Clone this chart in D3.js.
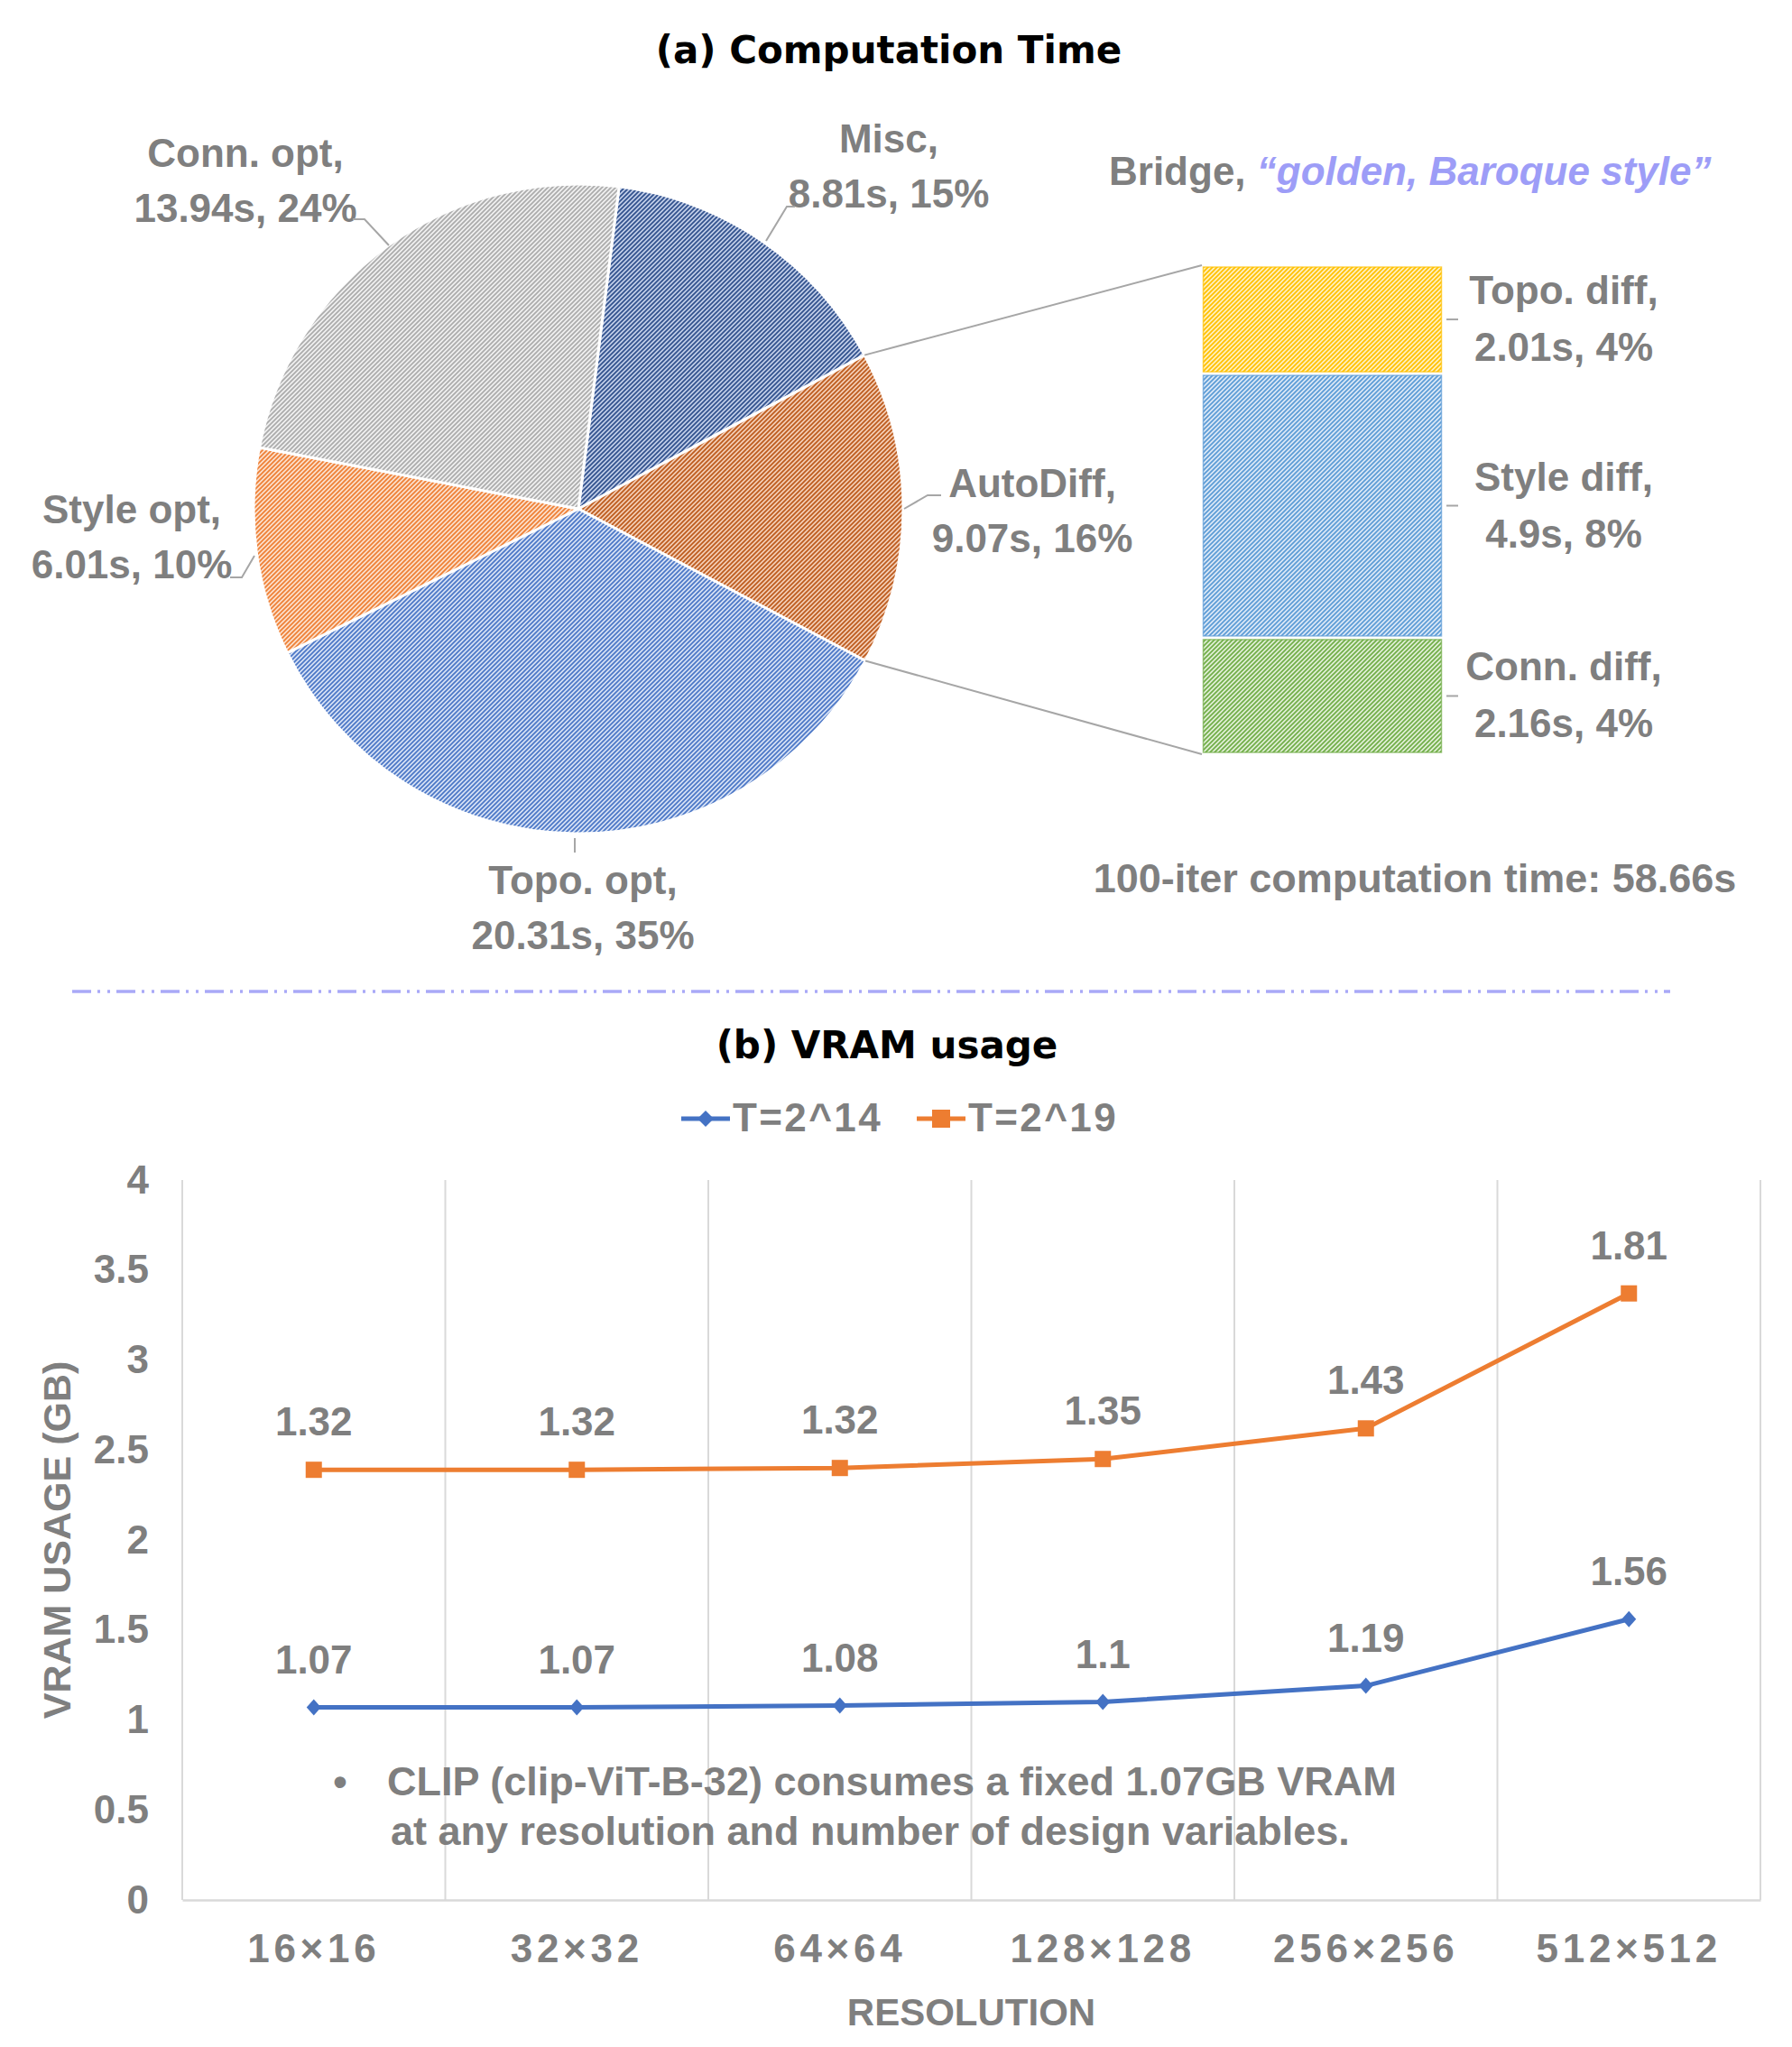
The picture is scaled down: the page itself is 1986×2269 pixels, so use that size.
<!DOCTYPE html>
<html>
<head>
<meta charset="utf-8">
<script src="https://cdnjs.cloudflare.com/ajax/libs/d3/7.8.5/d3.min.js"></script>
<style>
  body { margin: 0; background: #fff; }
  svg { display: block; }
</style>
</head>
<body>
<div id="chart"></div>
<script>
const W = 1986;
const H = 2269;

// ---- (a) computation time (bar of pie) ----
const pieNames = ["Misc", "AutoDiff", "Topo. opt", "Style opt", "Conn. opt"];
const pieSeconds = [8.81, 9.07, 20.31, 6.01, 13.94];
const piePercents = ["15%", "16%", "35%", "10%", "24%"];

const barNames = ["Topo. diff", "Style diff", "Conn. diff"];
const barSeconds = [2.01, 4.9, 2.16];
const barPercents = ["4%", "8%", "4%"];

// ---- (b) VRAM usage ----
const resolutions = ["16×16", "32×32", "64×64", "128×128", "256×256", "512×512"];
const vram14 = [1.07, 1.07, 1.08, 1.1, 1.19, 1.56];
const vram19 = [1.32, 1.32, 1.32, 1.35, 1.43, 1.81];
const seriesNames = ["T=2^14", "T=2^19"];
const yTicks = [0, 0.5, 1, 1.5, 2, 2.5, 3, 3.5, 4];

const grey = "#7F7F7F";
const labelFont = "'Liberation Sans', Arial, sans-serif";
const titleFont = "'DejaVu Sans', sans-serif";

// pattern colours: [light background, hatch line]
const pieColors = [
    ["#C0CDE8", "#30508C"],
    ["#F4CDB4", "#BC5A1C"],
    ["#D5E0F5", "#4A76C6"],
    ["#FCDFCB", "#EE7F34"],
    ["#F0F0F0", "#ABABAB"]
];
const barColors = [
    ["#FFF0BF", "#FFC000"],
    ["#DAE8F7", "#5B9BD5"],
    ["#E0EFD5", "#70AD47"]
];
const lineColors = ["#4472C4", "#ED7D31"];

let svg = d3.select("#chart")
            .append("svg")
            .attr("width", W)
            .attr("height", H);

let defs = svg.append("defs");

function addPattern(id, bg, fg) {
    let p = defs.append("pattern")
        .attr("id", id)
        .attr("patternUnits", "userSpaceOnUse")
        .attr("width", 5)
        .attr("height", 5);
    p.append("rect").attr("width", 5).attr("height", 5).attr("fill", bg);
    p.append("path")
        .attr("d", "M0,5L5,0M-1,1L1,-1M4,6L6,4")
        .attr("stroke", fg)
        .attr("stroke-width", 1.7);
}
pieColors.forEach((c, i) => addPattern("pie" + i, c[0], c[1]));
barColors.forEach((c, i) => addPattern("bar" + i, c[0], c[1]));

function greyText(g, x, y, str, size, anchor) {
    return g.append("text")
        .attr("x", x)
        .attr("y", y)
        .attr("text-anchor", anchor || "middle")
        .attr("font-family", labelFont)
        .attr("font-weight", "bold")
        .attr("font-size", size || 44)
        .attr("fill", grey)
        .text(str);
}

// ================= (a) =================
svg.append("text")
    .attr("x", 985)
    .attr("y", 70)
    .attr("text-anchor", "middle")
    .attr("font-family", titleFont)
    .attr("font-weight", "bold")
    .attr("font-size", 42)
    .attr("fill", "#000")
    .text("(a) Computation Time");

const pieCx = 641, pieCy = 564, pieR = 360;
const pieStart = 7.2 * Math.PI / 180;

let pie = d3.pie()
    .sort(null)
    .value(d => d)
    .startAngle(pieStart)
    .endAngle(pieStart + 2 * Math.PI);
let arcs = pie(pieSeconds);
let arc = d3.arc().innerRadius(0).outerRadius(pieR);

let gPie = svg.append("g").attr("transform", "translate(" + pieCx + "," + pieCy + ")");
gPie.selectAll("path")
    .data(arcs)
    .enter()
    .append("path")
    .attr("d", arc)
    .attr("fill", (d, i) => "url(#pie" + i + ")")
    .attr("stroke", "#fff")
    .attr("stroke-width", 3)
    .attr("stroke-linejoin", "round");

function onCircle(angle) {
    return [pieCx + pieR * Math.sin(angle), pieCy - pieR * Math.cos(angle)];
}

// bar of the split slice (AutoDiff)
const barX0 = 1332, barX1 = 1599;
let barY = d3.scaleLinear()
    .domain([0, d3.sum(barSeconds)])
    .range([294, 836]);
let barStarts = [0].concat(Array.from(d3.cumsum(barSeconds)));

let gBar = svg.append("g");
gBar.selectAll("rect")
    .data(barSeconds)
    .enter()
    .append("rect")
    .attr("x", barX0 + 1.5)
    .attr("width", barX1 - barX0 - 3)
    .attr("y", (d, i) => barY(barStarts[i]) + 2)
    .attr("height", (d, i) => barY(barStarts[i + 1]) - barY(barStarts[i]) - 4)
    .attr("fill", (d, i) => "url(#bar" + i + ")")
    .attr("stroke", (d, i) => barColors[i][1])
    .attr("stroke-opacity", 0.7)
    .attr("stroke-width", 1.5);

// connector lines pie -> bar
let split = arcs[1];
let connectors = [
    [onCircle(split.startAngle), [barX0, barY(0)]],
    [onCircle(split.endAngle), [barX0, barY(d3.sum(barSeconds))]]
];
svg.selectAll(".conn")
    .data(connectors)
    .enter()
    .append("path")
    .attr("class", "conn")
    .attr("d", d => d3.line()(d))
    .attr("fill", "none")
    .attr("stroke", "#A6A6A6")
    .attr("stroke-width", 2);

// pie data labels
const pieLabelPos = [[985, 169], [1144, 551], [646, 991], [146, 580], [272, 185]];
const pieLeaders = [
    [[881, 229], [872, 229], [849, 267]],
    [[1043, 549], [1028, 549], [1002, 564]],
    [[637, 929], [637, 945]],
    [[255, 640], [268, 640], [282, 616]],
    [[391, 243], [404, 243], [431, 272]]
];
let gLab = svg.append("g");
pieNames.forEach((name, i) => {
    let p = pieLabelPos[i];
    greyText(gLab, p[0], p[1], name + ",");
    greyText(gLab, p[0], p[1] + 61, pieSeconds[i] + "s, " + piePercents[i]);
    gLab.append("path")
        .attr("d", d3.line()(pieLeaders[i]))
        .attr("fill", "none")
        .attr("stroke", "#A6A6A6")
        .attr("stroke-width", 2);
});

// bar data labels
barNames.forEach((name, i) => {
    let mid = (barY(barStarts[i]) + barY(barStarts[i + 1])) / 2;
    greyText(gLab, 1733, mid - 17, name + ",");
    greyText(gLab, 1733, mid + 46, barSeconds[i] + "s, " + barPercents[i]);
    gLab.append("line")
        .attr("x1", barX1 + 4).attr("x2", barX1 + 17)
        .attr("y1", mid).attr("y2", mid)
        .attr("stroke", "#A6A6A6")
        .attr("stroke-width", 2);
});

let bridge = greyText(svg, 1229, 205, "Bridge, ", 44, "start");
bridge.append("tspan")
    .attr("font-style", "italic")
    .attr("fill", "#9D9DF7")
    .text("\u201Cgolden, Baroque style\u201D");

greyText(svg, 1568, 989, "100-iter computation time: 58.66s", 45);

// separator
svg.append("line")
    .attr("x1", 80).attr("x2", 1851)
    .attr("y1", 1099).attr("y2", 1099)
    .attr("stroke", "#A9A9F7")
    .attr("stroke-width", 3.5)
    .attr("stroke-dasharray", "21 7 3 8 3 7");

// ================= (b) =================
svg.append("text")
    .attr("x", 983)
    .attr("y", 1173)
    .attr("text-anchor", "middle")
    .attr("font-family", titleFont)
    .attr("font-weight", "bold")
    .attr("font-size", 42)
    .attr("fill", "#000")
    .text("(b) VRAM usage");

let x = d3.scaleBand().domain(resolutions).range([202, 1951]);
let y = d3.scaleLinear().domain([0, 4]).range([2106, 1308]);
const cx = d => x(d) + x.bandwidth() / 2;

// vertical gridlines
let gridX = resolutions.map(r => x(r)).concat([x.range()[1]]);
svg.selectAll(".vgrid")
    .data(gridX)
    .enter()
    .append("line")
    .attr("class", "vgrid")
    .attr("x1", d => d).attr("x2", d => d)
    .attr("y1", y(4)).attr("y2", y(0))
    .attr("stroke", "#D9D9D9")
    .attr("stroke-width", 2);

// x axis
let xAxis = svg.append("g")
    .attr("transform", "translate(0," + y(0) + ")")
    .call(d3.axisBottom(x).tickSize(0));
xAxis.select(".domain").attr("stroke", "#D9D9D9").attr("stroke-width", 2.5);
xAxis.selectAll("text")
    .attr("y", 69)
    .attr("dy", null)
    .attr("font-family", labelFont)
    .attr("font-weight", "bold")
    .attr("font-size", 44)
    .attr("letter-spacing", 4.7)
    .attr("fill", grey);

// y axis
let yAxis = svg.append("g")
    .attr("transform", "translate(" + x.range()[0] + ",0)")
    .call(d3.axisLeft(y).tickValues(yTicks).tickSize(0).tickPadding(37).tickFormat(d3.format("")));
yAxis.select(".domain").remove();
yAxis.selectAll("text")
    .attr("font-family", labelFont)
    .attr("font-weight", "bold")
    .attr("font-size", 44)
    .attr("fill", grey);

// axis titles
svg.append("text")
    .attr("transform", "translate(78," + y(2) + ") rotate(-90)")
    .attr("text-anchor", "middle")
    .attr("font-family", labelFont)
    .attr("font-weight", "bold")
    .attr("font-size", 43)
    .attr("fill", grey)
    .text("VRAM USAGE (GB)");
greyText(svg, (x.range()[0] + x.range()[1]) / 2, 2245, "RESOLUTION", 42);

// stacked lines (the T=2^19 series sits on top of T=2^14)
let rows = resolutions.map((r, i) => ({ res: r, a: vram14[i], b: vram19[i] }));
let keys = ["a", "b"];
let stacked = d3.stack().keys(keys)(rows);
let line = d3.line()
    .x(d => cx(d.data.res))
    .y(d => y(d[1]));

stacked.forEach((layer, k) => {
    svg.append("path")
        .datum(layer)
        .attr("d", line)
        .attr("fill", "none")
        .attr("stroke", lineColors[k])
        .attr("stroke-width", 5)
        .attr("stroke-linejoin", "round");
});

// markers
svg.selectAll(".dia")
    .data(stacked[0])
    .enter()
    .append("path")
    .attr("class", "dia")
    .attr("d", d => {
        let px = cx(d.data.res), py = y(d[1]);
        return "M" + px + "," + (py - 9) + "L" + (px + 8) + "," + py +
               "L" + px + "," + (py + 9) + "L" + (px - 8) + "," + py + "Z";
    })
    .attr("fill", lineColors[0]);
svg.selectAll(".sq")
    .data(stacked[1])
    .enter()
    .append("rect")
    .attr("class", "sq")
    .attr("x", d => cx(d.data.res) - 9)
    .attr("y", d => y(d[1]) - 9)
    .attr("width", 18)
    .attr("height", 18)
    .attr("fill", lineColors[1]);

// data labels: each series' own value, above its stacked point
let gVal = svg.append("g");
stacked.forEach((layer, k) => {
    layer.forEach(d => {
        greyText(gVal, cx(d.data.res), y(d[1]) - 38, String(d.data[keys[k]]));
    });
});

// legend
const legendX = [755, 1016];
seriesNames.forEach((name, k) => {
    let lx = legendX[k], ly = 1240;
    svg.append("line")
        .attr("x1", lx).attr("x2", lx + 54)
        .attr("y1", ly).attr("y2", ly)
        .attr("stroke", lineColors[k])
        .attr("stroke-width", 5);
    if (k === 0) {
        svg.append("path")
            .attr("d", "M" + (lx + 27) + "," + (ly - 9) + "L" + (lx + 36) + "," + ly +
                       "L" + (lx + 27) + "," + (ly + 9) + "L" + (lx + 18) + "," + ly + "Z")
            .attr("fill", lineColors[k]);
    } else {
        svg.append("rect")
            .attr("x", lx + 17).attr("y", ly - 10)
            .attr("width", 20).attr("height", 20)
            .attr("fill", lineColors[k]);
    }
    greyText(svg, lx + 57, 1254, name, 44, "start").attr("letter-spacing", 2.4);
});

// note
greyText(svg, 377, 1990, "\u2022", 44);
greyText(svg, 429, 1990, "CLIP (clip-ViT-B-32) consumes a fixed 1.07GB VRAM", 45, "start");
greyText(svg, 433, 2045, "at any resolution and number of design variables.", 45, "start");
</script>
</body>
</html>
